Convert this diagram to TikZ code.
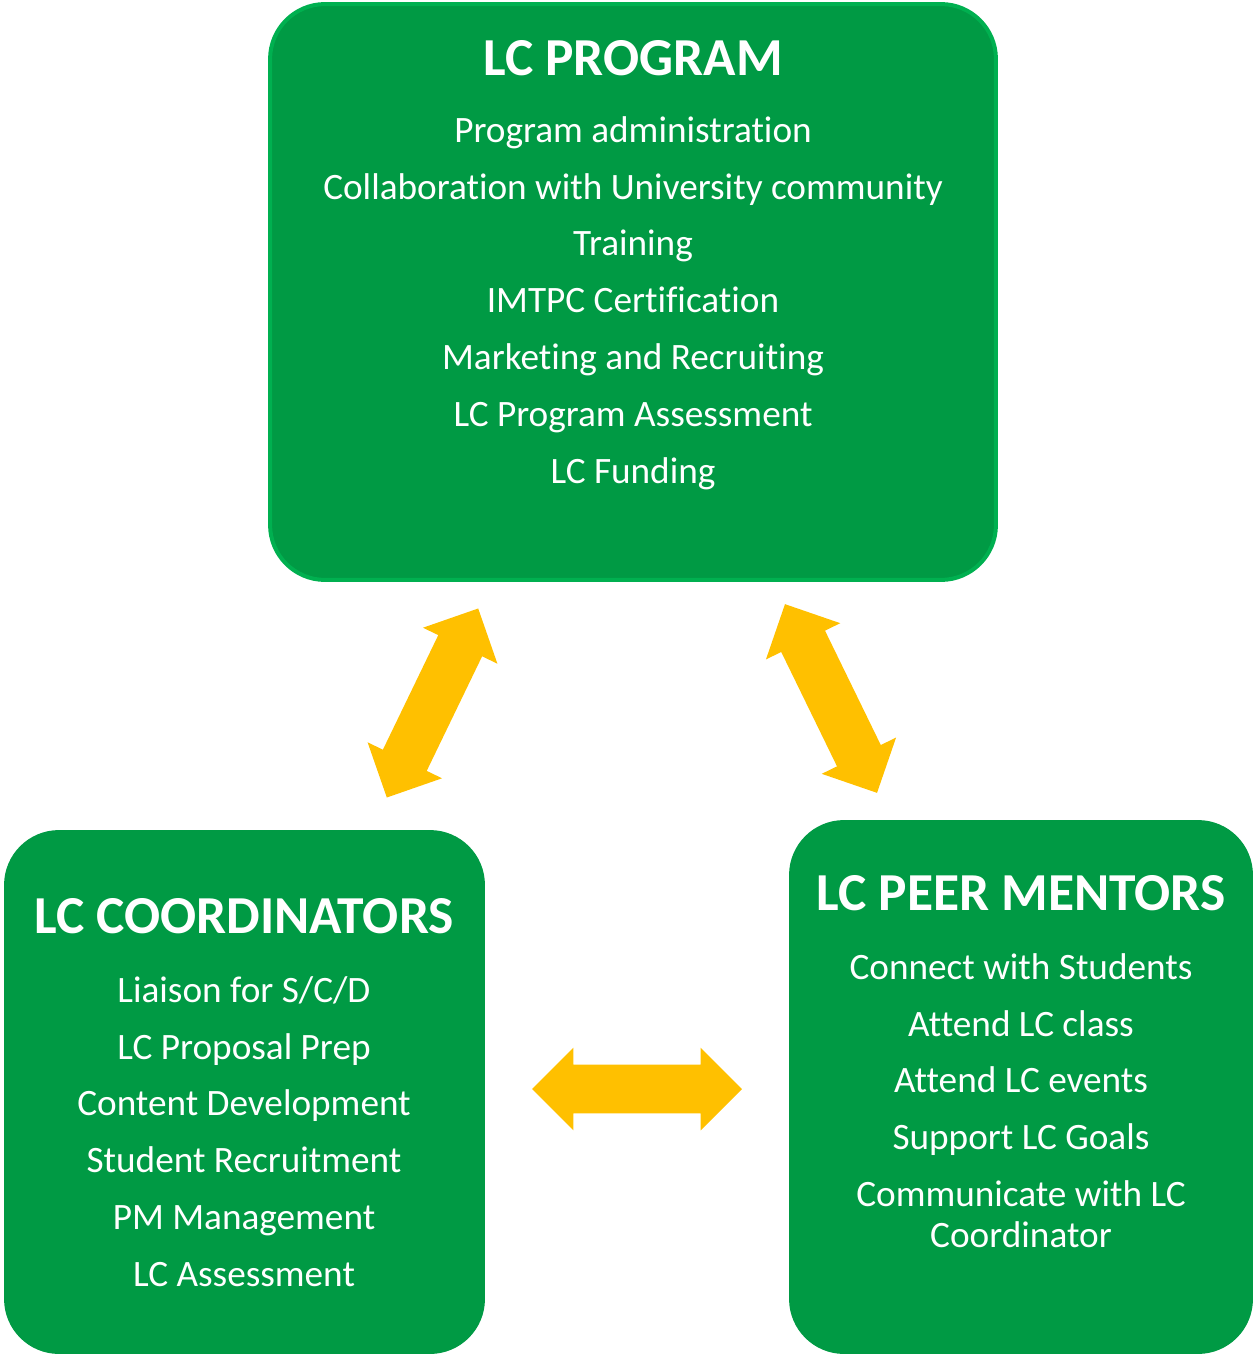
\documentclass[tikz,border=0pt]{standalone}
\usepackage{fontspec}
\setmainfont{Carlito}[Ligatures=NoCommon]
\usetikzlibrary{shapes.arrows}
\definecolor{boxgreen}{HTML}{009A44}
\definecolor{edgegreen}{HTML}{00B050}
\definecolor{arrowgold}{HTML}{FFC000}
\begin{document}
\begin{tikzpicture}[x=0.02cm,y=-0.02cm,
    box/.style={fill=boxgreen,rounded corners=1.1cm,inner sep=0pt},
    title/.style={text=white,font=\fontsize{30.4}{36}\selectfont\bfseries},
    items/.style={text=white,align=center,font=\fontsize{21.2}{23.25}\selectfont},
    link/.style={shape=double arrow,fill=arrowgold,minimum height=4.2cm,
      inner xsep=0pt,inner ysep=0.48cm,double arrow head extend=0.34cm,
      double arrow tip angle=90}]
  \useasboundingbox (0,0) rectangle (1254,1354);
  \node[box,draw=edgegreen,line width=0.08cm,minimum width=14.52cm,minimum height=11.52cm] (program) at (633,292) {};
  \node[box,minimum width=9.62cm,minimum height=10.48cm] (coordinators) at (244.5,1092) {};
  \node[box,minimum width=9.28cm,minimum height=10.68cm] (mentors) at (1021,1087) {};
  \node[title] (programT) at (633,58) {LC PROGRAM};
  \node[items] (programL) at (633,303) {Program administration\\[0.32cm]
    Collaboration with University community\\[0.32cm]
    Training\\[0.32cm]
    IMTPC Certification\\[0.32cm]
    Marketing and Recruiting\\[0.32cm]
    LC Program Assessment\\[0.32cm]
    LC Funding};
  \node[title] (coordinatorsT) at (244,916) {LC COORDINATORS};
  \node[items] (coordinatorsL) at (244,1131.5) {Liaison for S/C/D\\[0.32cm]
    LC Proposal Prep\\[0.32cm]
    Content Development\\[0.32cm]
    Student Recruitment\\[0.32cm]
    PM Management\\[0.32cm]
    LC Assessment};
  \node[title] (mentorsT) at (1021,893) {LC PEER MENTORS};
  \node[items] (mentorsL) at (1021,1100.5) {Connect with Students\\[0.32cm]
    Attend LC class\\[0.32cm]
    Attend LC events\\[0.32cm]
    Support LC Goals\\[0.32cm]
    Communicate with LC\\
    Coordinator};
  \node[link,rotate=64.2] (programToCoordinators) at (432.5,703) {};
  \node[link,rotate=-64] (programToMentors) at (831,698.5) {};
  \node[link] (coordinatorsToMentors) at (637,1089) {};
\end{tikzpicture}
\end{document}
